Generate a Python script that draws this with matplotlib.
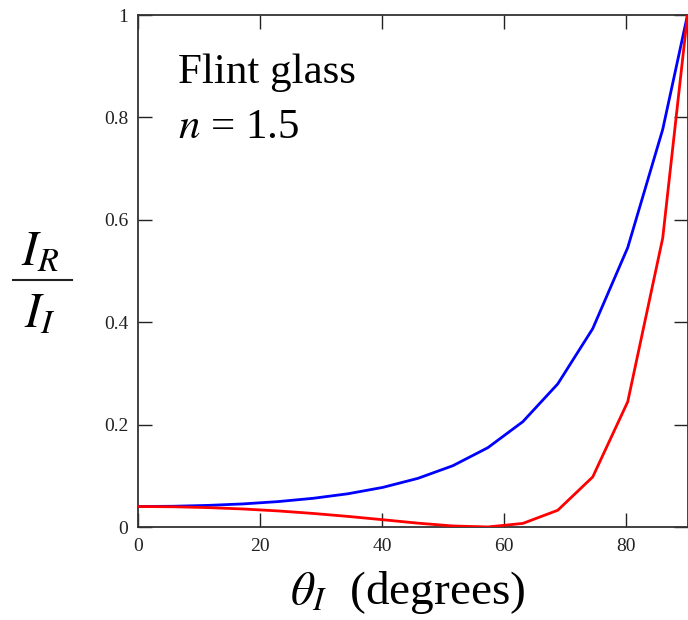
import matplotlib
matplotlib.use("Agg")
import matplotlib.pyplot as plt
from matplotlib.lines import Line2D

plt.rcParams['font.family'] = ['Liberation Serif', 'DejaVu Serif']
plt.rcParams['mathtext.fontset'] = 'stix'

# incidence angle (degrees), sampled every 0.1 rad up to 90
theta = [0, 5.73, 11.46, 17.19, 22.92, 28.65, 34.38, 40.11, 45.84, 51.57,
         57.30, 63.03, 68.75, 74.48, 80.21, 85.94, 90]
# reflected fraction, s-polarisation (blue) and p-polarisation (red)
r_perp = [0.040, 0.0405, 0.0422, 0.0451, 0.0496, 0.0560, 0.0649, 0.0774,
          0.0950, 0.1197, 0.1549, 0.2057, 0.2795, 0.3875, 0.5457, 0.7765, 1.0]
r_par = [0.040, 0.0395, 0.0379, 0.0352, 0.0314, 0.0265, 0.0207, 0.0142,
         0.0075, 0.0020, 0.0001, 0.0070, 0.0327, 0.0978, 0.2446, 0.5643, 1.0]

xticks = [0, 20, 40, 60, 80]
yticks = [0, 0.2, 0.4, 0.6, 0.8, 1]
yticklabels = ['0', '0.2', '0.4', '0.6', '0.8', '1']

W, H = 688, 620
fig = plt.figure(figsize=(W/100, H/100), dpi=100)
ax = fig.add_axes([138/W, 93/H, 549.5/W, 512/H])

ax.plot(theta, r_perp, color='#0000ff', lw=2, zorder=3)
ax.plot(theta, r_par, color='#ff0000', lw=2, zorder=3)

ax.set_xlim(0, 90)
ax.set_ylim(0, 1)
ax.set_xticks(xticks)
ax.set_yticks(yticks)
ax.set_yticklabels(yticklabels)
ax.tick_params(direction='in', length=10, width=1, color='#222222',
               top=True, right=True, labelsize=14, labelcolor='#222222')
ax.tick_params(axis='x', pad=8)
ax.tick_params(axis='y', pad=7)
for s in ax.spines.values():
    s.set_color('#333333')
    s.set_linewidth(1.3)

ax.text(0.073, 0.867, 'Flint glass', transform=ax.transAxes,
        fontsize=31, va='baseline', ha='left')
ax.text(0.073, 0.760, r'$n$ = 1.5', transform=ax.transAxes,
        fontsize=31, va='baseline', ha='left')

# y label drawn as a stacked fraction
fig.text(40/W, 1 - 265/H, r'$I_R$', fontsize=35, ha='center', va='baseline')
fig.text(40/W, 1 - 327/H, r'$I_I$', fontsize=35, ha='center', va='baseline')
fig.add_artist(Line2D([13/W, 72/W], [1 - 280/H, 1 - 280/H], color='#222222',
                      lw=1.5, transform=fig.transFigure))

fig.text(408/W, 1 - 604/H, r'$\theta_I$  (degrees)', fontsize=34,
         ha='center', va='baseline')

fig.savefig('out.png', dpi=100)
